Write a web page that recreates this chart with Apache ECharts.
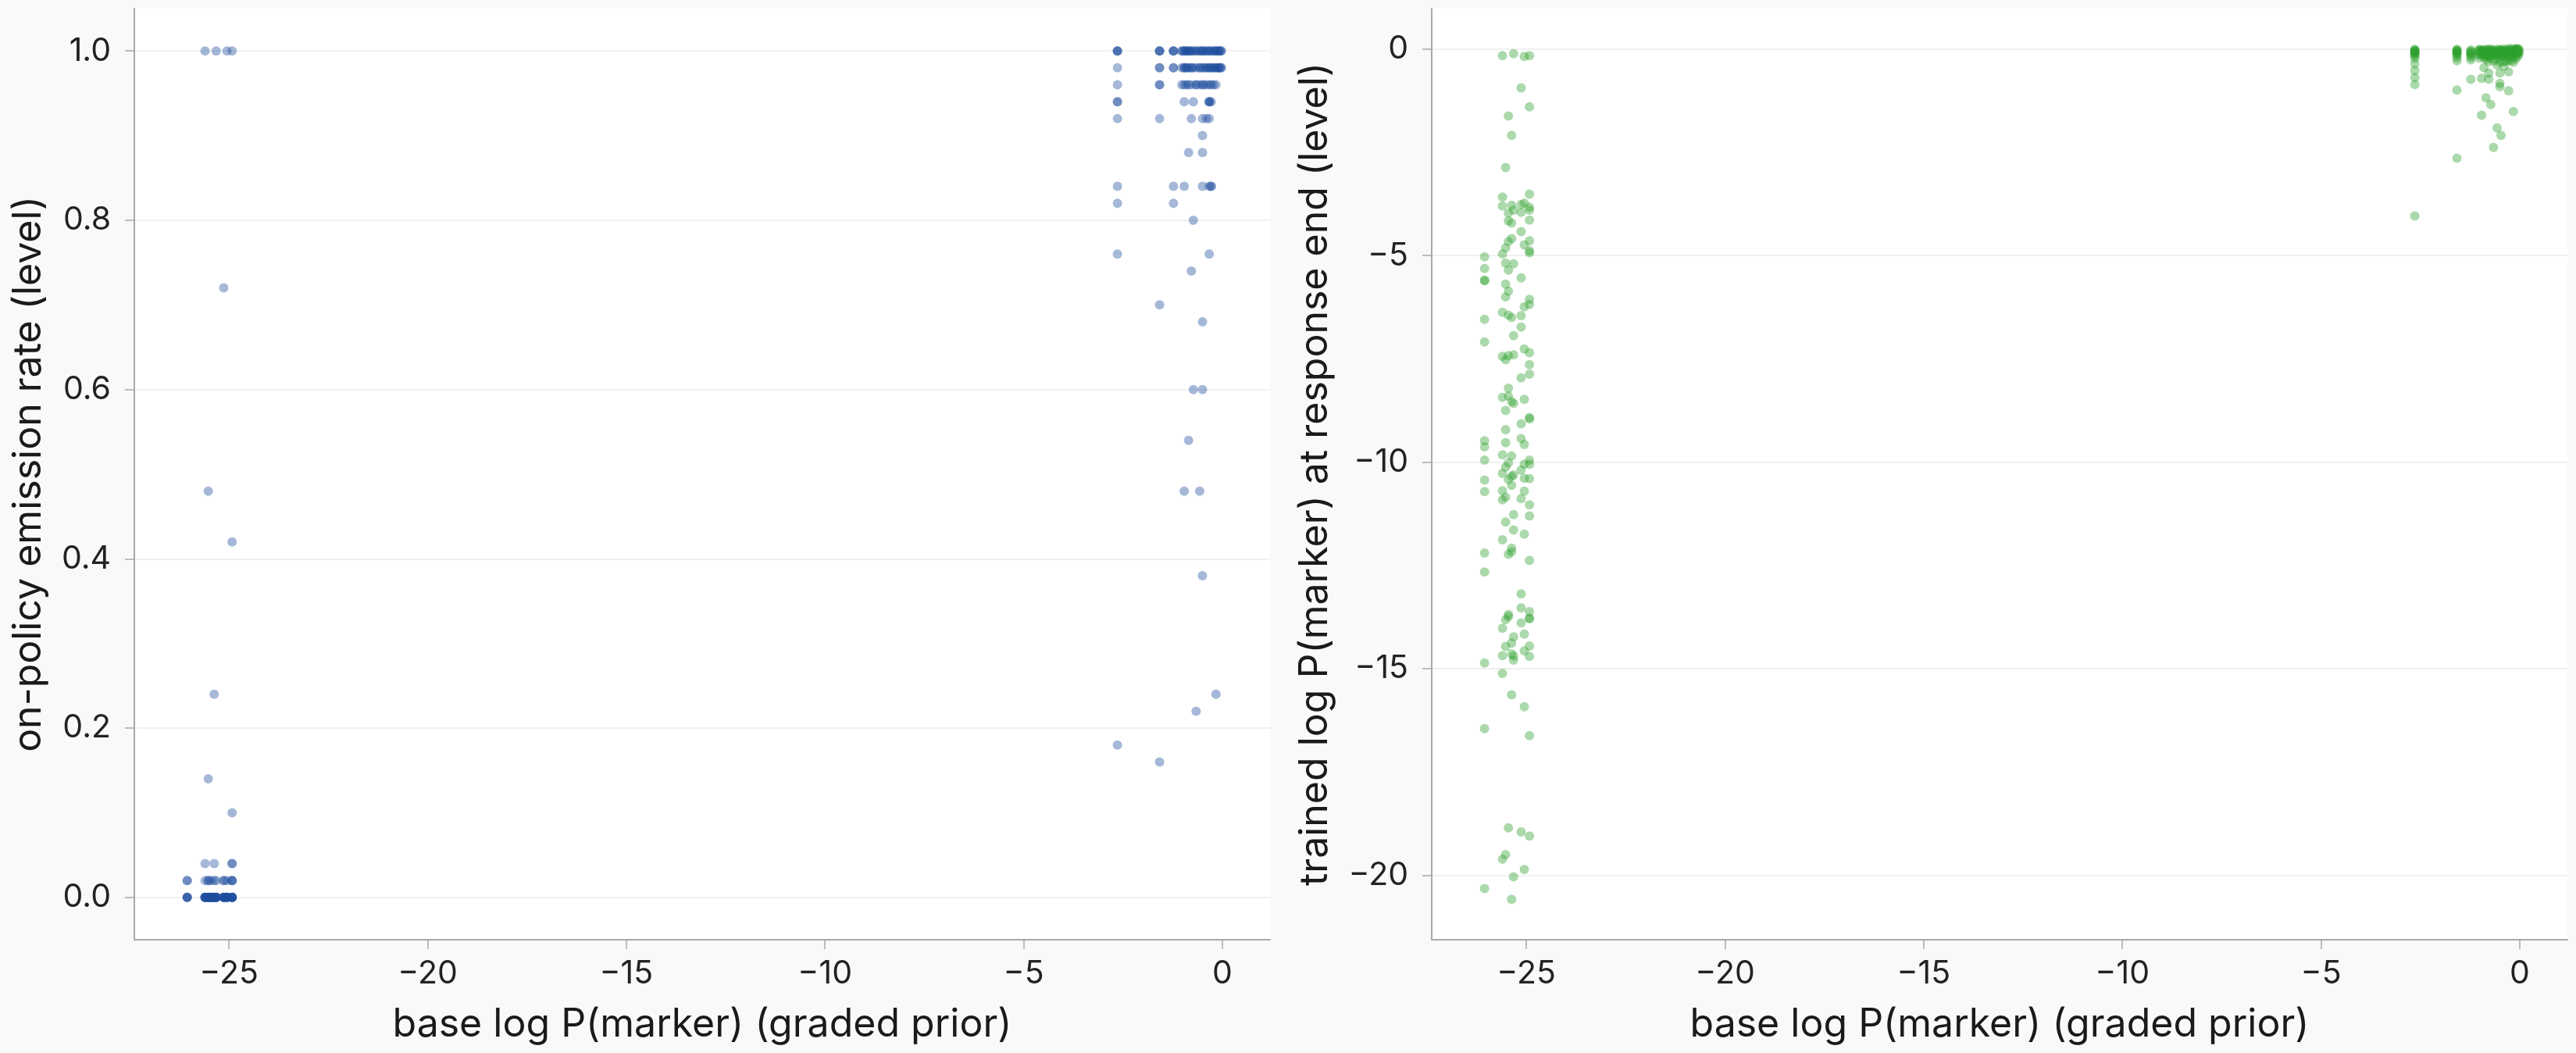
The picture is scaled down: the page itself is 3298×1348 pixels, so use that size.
<!DOCTYPE html>
<html>
<head>
<meta charset="utf-8">
<script src="https://cdn.jsdelivr.net/npm/echarts@6/dist/echarts.min.js"></script>
<style>
  html, body { margin: 0; padding: 0; background: #f9f9f9; }
  #main { width: 3298px; height: 1348px; }
</style>
</head>
<body>
<div id="main"></div>
<script>
// x columns (base log P) of the two prompt groups
var lowX = [-26.05, -25.6, -25.52, -25.45, -25.37, -25.32, -25.13, -25.05, -24.92];
var highX = [-2.64, -1.58, -1.23, -1.02, -0.96, -0.9, -0.85, -0.78, -0.73, -0.66, -0.57,
             -0.5, -0.47, -0.4, -0.33, -0.28, -0.22, -0.16, -0.1, -0.05, -0.02];

// 左图: on-policy emission rate, 每列的 y 值
var rateLow = [
  [0.02, 0.02, 0, 0, 0, 0],
  [1.0, 0.04, 0.02, 0, 0, 0, 0, 0, 0],
  [0.48, 0.14, 0.02, 0.02, 0, 0, 0, 0, 0, 0],
  [0.02, 0, 0, 0, 0, 0, 0],
  [0.24, 0.04, 0.02, 0, 0, 0, 0, 0],
  [1.0, 0.02, 0, 0, 0, 0, 0],
  [0.72, 0.02, 0.02, 0, 0, 0, 0, 0, 0],
  [1.0, 0.02, 0, 0, 0, 0, 0, 0],
  [1.0, 0.42, 0.10, 0.04, 0.04, 0.02, 0.02, 0.02, 0, 0, 0, 0, 0, 0, 0]
];
var rateHigh = [
  [1.0, 1.0, 1.0, 0.98, 0.96, 0.94, 0.94, 0.92, 0.84, 0.82, 0.76, 0.18],
  [1.0, 1.0, 1.0, 0.98, 0.98, 0.96, 0.96, 0.92, 0.70, 0.16],
  [1.0, 1.0, 1.0, 0.98, 0.98, 0.84, 0.82],
  [1.0, 1.0, 0.98, 0.96],
  [1.0, 1.0, 0.98, 0.98, 0.96, 0.94, 0.84, 0.48],
  [1.0, 1.0, 0.98, 0.98, 0.96],
  [1.0, 1.0, 0.98, 0.96, 0.88, 0.54],
  [1.0, 1.0, 0.98, 0.98, 0.96, 0.92, 0.74],
  [1.0, 0.98, 0.94, 0.80, 0.60],
  [1.0, 1.0, 0.98, 0.96, 0.96, 0.22],
  [1.0, 1.0, 0.98, 0.98, 0.96, 0.48],
  [1.0, 1.0, 0.98, 0.96, 0.92, 0.90, 0.88, 0.84, 0.68, 0.60, 0.38],
  [1.0, 0.98, 0.96],
  [1.0, 1.0, 0.98, 0.98, 0.96, 0.92],
  [1.0, 1.0, 0.98, 0.98, 0.96, 0.94, 0.94, 0.94, 0.92, 0.84, 0.76],
  [1.0, 0.98, 0.96, 0.94, 0.84, 0.84],
  [1.0, 1.0, 0.98, 0.98, 0.96],
  [1.0, 1.0, 0.98, 0.98, 0.96, 0.24],
  [1.0, 1.0, 0.98, 0.98],
  [1.0, 1.0, 0.98, 0.98],
  [1.0, 0.98]
];

// 右图: trained log P(marker) at response end
var trainedLow = [
  [-5.03, -5.31, -5.59, -5.61, -6.54, -7.09, -9.48, -9.63, -9.95, -10.43, -10.71, -12.20, -12.66, -14.86, -16.45, -20.32],
  [-0.16, -3.58, -3.80, -4.96, -6.37, -7.44, -8.43, -9.82, -10.27, -10.69, -10.91, -11.88, -14.02, -14.68, -15.11, -19.61],
  [-2.87, -4.81, -5.18, -5.69, -6.00, -7.52, -8.75, -9.21, -9.53, -10.12, -10.85, -11.45, -13.81, -14.46, -19.50],
  [-1.62, -3.97, -4.16, -4.66, -5.35, -5.86, -6.44, -7.42, -8.21, -8.40, -10.02, -10.42, -12.23, -13.69, -13.74, -18.85],
  [-2.09, -3.78, -4.21, -4.59, -6.50, -8.53, -9.85, -10.34, -10.56, -12.08, -12.17, -14.38, -14.64, -15.63, -20.58],
  [-0.11, -3.90, -5.20, -6.94, -7.40, -8.58, -10.31, -11.27, -11.64, -14.23, -14.69, -14.79, -20.04],
  [-0.94, -3.76, -3.95, -4.42, -5.54, -6.45, -6.73, -7.96, -9.07, -9.43, -10.19, -10.88, -13.19, -13.53, -13.89, -18.95],
  [-0.18, -3.73, -4.74, -6.24, -7.26, -8.48, -9.57, -10.05, -10.39, -10.70, -11.74, -14.16, -14.57, -15.92, -19.86],
  [-0.16, -1.40, -3.51, -3.83, -3.90, -4.14, -4.64, -4.88, -4.93, -6.06, -6.18, -7.35, -7.64, -7.87, -8.92, -8.95,
   -9.95, -10.05, -10.40, -11.03, -11.30, -12.38, -13.62, -13.78, -13.79, -14.45, -14.70, -16.62, -19.05]
];
var trainedHigh = [
  [-0.01, -0.02, -0.04, -0.05, -0.07, -0.09, -0.11, -0.13, -0.17, -0.22, -0.36, -0.52, -0.69, -0.86, -4.04],
  [-0.01, -0.02, -0.04, -0.06, -0.08, -0.10, -0.12, -0.15, -0.21, -0.28, -0.99, -2.64],
  [-0.02, -0.05, -0.07, -0.10, -0.12, -0.15, -0.20, -0.26, -0.73],
  [-0.01, -0.02, -0.05, -0.08, -0.12, -0.15, -0.22],
  [-0.02, -0.05, -0.09, -0.12, -0.71, -1.60],
  [-0.02, -0.06, -0.10, -0.14, -0.20, -0.45],
  [-0.01, -0.04, -0.08, -0.13, -0.18, -0.25, -1.18],
  [-0.01, -0.04, -0.08, -0.12, -0.18, -0.30, -0.58, -0.73],
  [0.00, -0.03, -0.07, -0.12, -0.16, -0.22, -1.34],
  [-0.02, -0.05, -0.09, -0.13, -0.17, -0.28, -2.38],
  [-0.01, -0.04, -0.07, -0.11, -0.15, -0.25, -0.38, -1.91],
  [-0.01, -0.03, -0.06, -0.10, -0.14, -0.20, -0.32, -0.58, -0.83, -0.91],
  [-0.02, -0.06, -0.11, -0.16, -2.09],
  [0.00, -0.04, -0.08, -0.13, -0.18, -0.30, -0.42],
  [-0.02, -0.06, -0.10, -0.15, -0.20, -0.30],
  [0.01, -0.04, -0.09, -0.14, -0.25, -0.55, -1.01],
  [0.01, -0.03, -0.07, -0.11, -0.16, -0.28],
  [-0.02, -0.06, -0.10, -0.15, -0.20, -0.32, -1.51],
  [0.01, 0.00, -0.03, -0.06, -0.10, -0.14, -0.24],
  [0.01, -0.02, -0.06, -0.10, -0.18],
  [0.00, -0.04, -0.08, -0.12]
];

var xTicks = [-25, -20, -15, -10, -5, 0];
var rateTicks = [0, 0.2, 0.4, 0.6, 0.8, 1.0];
var trainedTicks = [-20, -15, -10, -5, 0];

function pairs(xs, ys) {
  var out = [];
  for (var i = 0; i < xs.length; i++) {
    for (var j = 0; j < ys[i].length; j++) {
      out.push([xs[i], ys[i][j]]);
    }
  }
  return out;
}

var FONT = 'Inter';
function minus(s) { return String(s).replace('-', '\u2212'); }

function xAxisOf(gridIndex) {
  return {
    type: 'value', gridIndex: gridIndex, min: -27.38, max: 1.2,
    name: 'base log P(marker) (graded prior)', nameLocation: 'middle', nameGap: 84,
    nameTextStyle: { fontFamily: FONT, fontSize: 50, color: '#1a1a1a' },
    axisLine: { show: true, onZero: false, lineStyle: { color: '#a8a8a8', width: 2 } },
    axisTick: { show: true, length: 12, customValues: xTicks, lineStyle: { color: '#a8a8a8', width: 1.5 } },
    axisLabel: { customValues: xTicks, margin: 23, fontFamily: FONT, fontSize: 41, color: '#222',
      formatter: function (v) { return minus(v); } },
    splitLine: { show: false }
  };
}

function yAxisOf(gridIndex, min, max, ticks, name, gap, fmt) {
  return {
    type: 'value', gridIndex: gridIndex, min: min, max: max,
    name: name, nameLocation: 'middle', nameGap: gap, nameRotate: 90,
    nameTextStyle: { fontFamily: FONT, fontSize: 50, color: '#1a1a1a' },
    axisLine: { show: true, onZero: false, lineStyle: { color: '#a8a8a8', width: 2 } },
    axisTick: { show: true, length: 12, customValues: ticks, lineStyle: { color: '#a8a8a8', width: 1.5 } },
    axisLabel: { customValues: ticks, margin: 30, fontFamily: FONT, fontSize: 41, color: '#222', formatter: fmt },
    splitLine: { show: true, lineStyle: { color: '#ebebeb', width: 1.5 } }
  };
}

var myChart = echarts.init(document.getElementById('main'));

var option = {
  backgroundColor: '#f9f9f9',
  animation: false,
  grid: [
    { left: 172, top: 11, width: 1454, height: 1192, show: true, backgroundColor: '#ffffff', borderWidth: 0 },
    { left: 1833, top: 11, width: 1454, height: 1192, show: true, backgroundColor: '#ffffff', borderWidth: 0 }
  ],
  xAxis: [xAxisOf(0), xAxisOf(1)],
  yAxis: [
    yAxisOf(0, -0.05, 1.05, rateTicks, 'on-policy emission rate (level)', 110,
      function (v) { return v.toFixed(1); }),
    yAxisOf(1, -21.56, 0.98, trainedTicks, 'trained log P(marker) at response end (level)', 124,
      function (v) { return minus(v); })
  ],
  series: [
    {
      type: 'scatter', xAxisIndex: 0, yAxisIndex: 0, symbolSize: 12,
      itemStyle: { color: '#1f4e9e', opacity: 0.4 },
      data: pairs(lowX, rateLow).concat(pairs(highX, rateHigh))
    },
    {
      type: 'scatter', xAxisIndex: 1, yAxisIndex: 1, symbolSize: 12,
      itemStyle: { color: '#2ca02c', opacity: 0.4 },
      data: pairs(lowX, trainedLow).concat(pairs(highX, trainedHigh))
    }
  ]
};

myChart.setOption(option);
</script>
</body>
</html>
